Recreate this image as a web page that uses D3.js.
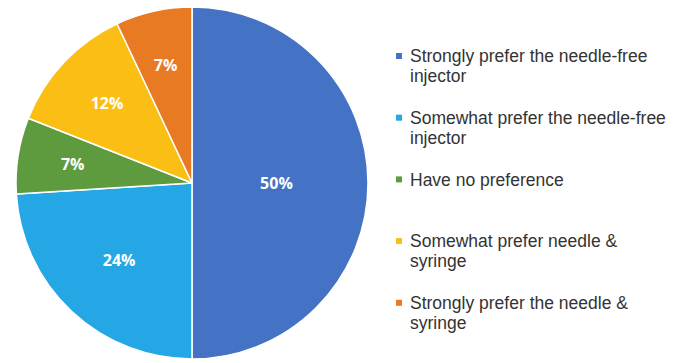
<!DOCTYPE html>
<html>
<head>
<meta charset="utf-8">
<script src="https://cdn.jsdelivr.net/npm/d3@7"></script>
<style>
  html, body { margin: 0; padding: 0; background: #ffffff; }
  svg { display: block; }
</style>
</head>
<body>
<svg id="chart" width="686" height="363"></svg>
<script>
// Survey responses: preference between needle-free injector and needle & syringe
const categories = [
  "Strongly prefer the needle-free injector",
  "Somewhat prefer the needle-free injector",
  "Have no preference",
  "Somewhat prefer needle & syringe",
  "Strongly prefer the needle & syringe"
];
const legendLines = [
  ["Strongly prefer the needle-free", "injector"],
  ["Somewhat prefer the needle-free", "injector"],
  ["Have no preference"],
  ["Somewhat prefer needle &", "syringe"],
  ["Strongly prefer the needle &", "syringe"]
];
const values = [50, 24, 7, 12, 7];
const colors = ["#4472C4", "#25A7E6", "#5E9B3E", "#FBBE14", "#E97A24"];

const svg = d3.select("#chart");
const cx = 192, cy = 183, R = 176;

const pie = d3.pie().sort(null).value(d => d.value);
const data = categories.map((c, i) => ({ name: c, value: values[i], color: colors[i] }));
const arcs = pie(data);
const total = d3.sum(values);

const arc = d3.arc().innerRadius(0).outerRadius(R);

const g = svg.append("g").attr("transform", `translate(${cx},${cy})`);

g.selectAll("path.slice")
  .data(arcs)
  .join("path")
  .attr("class", "slice")
  .attr("d", arc)
  .attr("fill", d => d.data.color)
  .attr("stroke", "#ffffff")
  .attr("stroke-width", 1.5)
  .attr("stroke-linejoin", "round");

// Data labels sit closer to the centre for the larger slices
g.selectAll("text.label")
  .data(arcs)
  .join("text")
  .attr("class", "label")
  .attr("transform", d => {
    const frac = d.data.value / total;
    const r = R * (0.72 - 0.48 * frac);
    const a = (d.startAngle + d.endAngle) / 2;
    return `translate(${r * Math.sin(a)},${-r * Math.cos(a)})`;
  })
  .attr("text-anchor", "middle")
  .attr("dy", "0.36em")
  .attr("fill", "#ffffff")
  .style("font-family", "'Open Sans', 'Liberation Sans', sans-serif")
  .style("font-weight", "700")
  .style("font-size", "16px")
  .text(d => d.data.value + "%");

// Legend
const legendX = 396, legendY0 = 56, legendStep = 61.7, lineH = 20;
const legend = svg.append("g");
const items = legend.selectAll("g.item")
  .data(data)
  .join("g")
  .attr("class", "item")
  .attr("transform", (d, i) => `translate(${legendX},${legendY0 + i * legendStep})`);

items.append("rect")
  .attr("x", 0)
  .attr("y", -3)
  .attr("width", 6)
  .attr("height", 6)
  .attr("fill", d => d.color);

items.append("text")
  .attr("x", 14)
  .attr("y", 0)
  .attr("fill", "#333333")
  .style("font-family", "'Liberation Sans', Arial, sans-serif")
  .style("font-size", "17.5px")
  .selectAll("tspan")
  .data((d, i) => legendLines[i])
  .join("tspan")
  .attr("x", 14)
  .attr("dy", (t, j) => j === 0 ? "0.36em" : lineH)
  .text(t => t);
</script>
</body>
</html>
